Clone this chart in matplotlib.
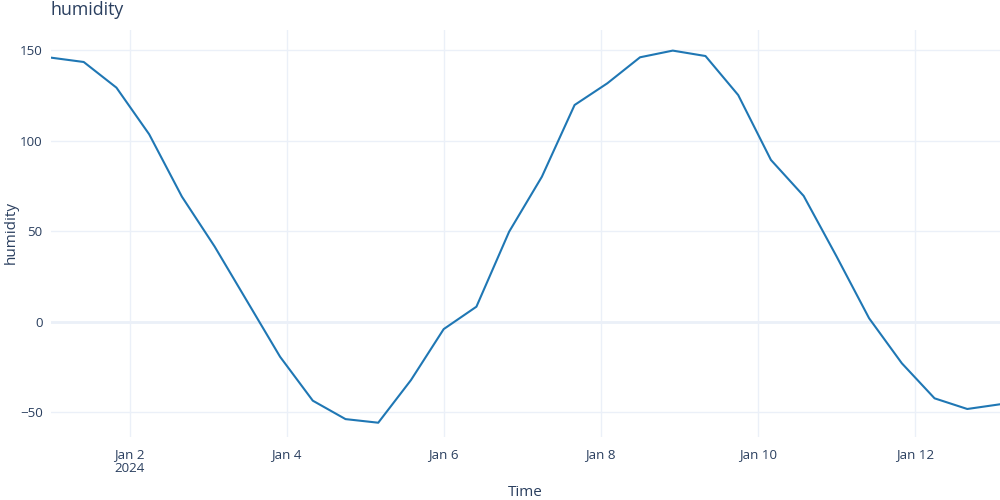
import numpy as np
import pandas as pd
import matplotlib
matplotlib.use("Agg")
import matplotlib.pyplot as plt
import matplotlib.dates as mdates

# readings every 10 hours from Jan 1 2024
times = pd.date_range("2024-01-01 00:00", periods=30, freq="10h")
humidity = [146, 143.6, 129.4, 103.6, 69.1, 41.5, 11, -19.5, -43.8, -54,
            -56, -32.4, -4.2, 8.2, 49.7, 80.1, 119.8, 131.8, 146.2, 149.9,
            146.9, 125.3, 89.4, 69.5, 36.2, 1.8, -23.1, -42.5, -48.4, -45.8]

tick_dates = pd.to_datetime(["2024-01-02", "2024-01-04", "2024-01-06",
                             "2024-01-08", "2024-01-10", "2024-01-12"])
tick_labels = ["Jan 2\n2024", "Jan 4", "Jan 6", "Jan 8", "Jan 10", "Jan 12"]
y_ticks = [-50, 0, 50, 100, 150]

text_col = "#2a3f5f"
grid_col = "#ebf0f8"
plt.rcParams["font.family"] = ["Open Sans", "DejaVu Sans"]

fig = plt.figure(figsize=(10, 5), dpi=100)
ax = fig.add_axes([0.051, 0.126, 0.949, 0.814])

ax.plot(times, humidity, color="#1f77b4", lw=1.5, zorder=3)

ax.set_xlim(times[0], times[-1])
ax.set_ylim(-63.9, 161.3)

ax.set_xticks(tick_dates)
ax.set_xticklabels(tick_labels, linespacing=1.1)
ax.set_yticks(y_ticks)
ax.grid(True, color=grid_col, lw=1, zorder=0)
ax.axhline(0, color=grid_col, lw=2, zorder=1)
ax.set_axisbelow(True)

for s in ax.spines.values():
    s.set_visible(False)
ax.tick_params(length=0, labelsize=9.6, colors=text_col)
ax.tick_params(axis="x", pad=8)
ax.tick_params(axis="y", pad=6)

fig.text(0.525, 0.016, "Time", fontsize=11, color=text_col, ha="center", va="center")
fig.text(0.011, 0.534, "humidity", fontsize=11, color=text_col, ha="center", va="center",
         rotation=90)
fig.text(0.05, 0.98, "humidity", fontsize=12.8, color=text_col, va="center", ha="left")

fig.savefig("out.png", dpi=100, facecolor="white")
